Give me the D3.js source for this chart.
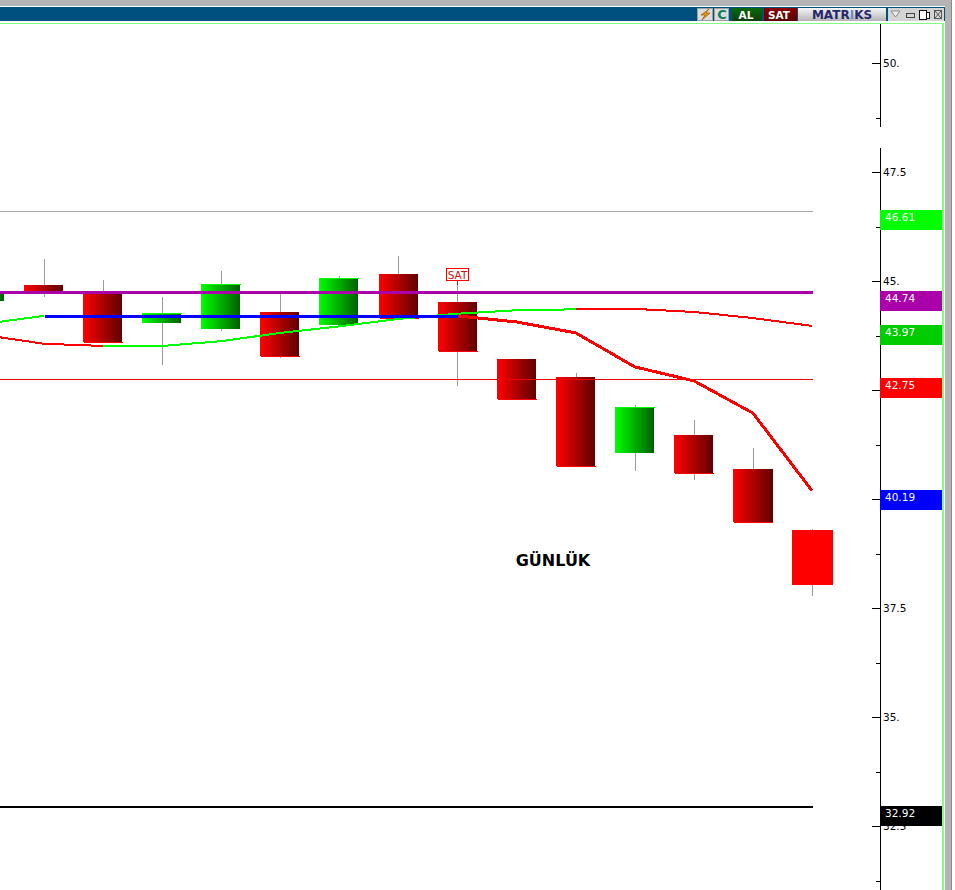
<!DOCTYPE html>
<html>
<head>
<meta charset="utf-8">
<script src="https://cdn.jsdelivr.net/npm/d3@7/dist/d3.min.js"></script>
<style>
html,body{margin:0;padding:0;background:#fff;overflow:hidden}
svg{display:block}
text{font-family:"DejaVu Sans",sans-serif}
</style>
</head>
<body>
<svg id="c" width="955" height="890"></svg>
<script>
// ---- data ----
const candleIndex = [0,1,2,3,4,5,6,7,8,9,10,11,12,13,14];
const opens  = [44.55,44.91,44.75,44.04,43.90,44.29,43.99,45.16,44.52,43.21,42.80,41.06,41.47,40.69,39.29];
const closes = [44.74,44.72,43.61,44.27,44.93,43.28,45.07,44.14,43.39,42.29,40.76,42.11,40.60,39.47,38.03];
const highs  = [44.74,45.50,45.02,44.63,45.23,44.72,45.11,45.57,45.14,43.21,42.89,42.16,41.81,41.17,39.31];
const lows   = [44.55,44.63,43.61,43.07,43.85,43.23,43.99,44.14,42.59,42.29,40.76,40.64,40.44,39.47,37.78];
const slowAvg = [43.76,43.56,43.51,43.51,43.62,43.81,43.96,44.13,44.25,44.33,44.35,44.36,44.29,44.15,43.97];
const fastAvgStart = [44.02,44.20];
const fastAvgEnd = [44.20,44.06,43.81,43.03,42.71,41.97,40.19];
const blueLevel = 44.20;
const majorTicks = [50,47.5,45,42.5,40,37.5,35,32.5];
const minorTicks = [48.75,46.25,43.75,41.25,38.75,36.25,33.75,31.25];
const tickLabels = ["50.","47.5","45.","42.5","","37.5","35.","32.5"];
const priceTags = [46.61,44.74,43.97,42.75,40.19,32.92];
const tagColors = ["#00ff00","#aa00aa","#00cc00","#ff0000","#0000ff","#000000"];
const signalIndex = 8;
const signalPrice = 45.14;

const svg = d3.select("#c");
const x = d3.scaleLinear().domain([0,14]).range([-15,812]);
const y = d3.scaleLinear().domain([50,32.5]).range([63,826]);
const plotRight = 813, axisX = 880, bodyW = 39;

// gradients
const defs = svg.append("defs");
function grad(id,a,b,dir){
  const g = defs.append("linearGradient").attr("id",id);
  if(dir) g.attr("x1",0).attr("x2",0).attr("y1",0).attr("y2",1);
  g.append("stop").attr("offset","0%").attr("stop-color",a);
  g.append("stop").attr("offset","100%").attr("stop-color",b);
}
grad("up","#00ff00","#006000");
grad("down","#ff0000","#600000");
grad("btnG","#0a6a0a","#0c3f0c",1);
grad("btnR","#8a0000","#5a0000",1);
grad("btnL","#f6f6f6","#b4b4b4",1);

// ---- chart ----
const chart = svg.append("g");

// horizontal levels (under the candles)
const hline = (v,x0,x1,c,w)=>{
  const yy = w%2 ? Math.round(y(v))+0.5 : Math.floor(y(v));
  return chart.append("line")
    .attr("x1",x0).attr("x2",x1).attr("y1",yy).attr("y2",yy)
    .attr("stroke",c).attr("stroke-width",w).attr("shape-rendering","crispEdges");
};
hline(priceTags[0],0,plotRight,"#a8a8a8",1);

const candles = candleIndex.map(i=>({i,o:opens[i],c:closes[i],h:highs[i],l:lows[i]}));
const cg = chart.selectAll("g.candle").data(candles).join("g").attr("class","candle");
const isLast = d=>d.i===candles.length-1;
cg.append("line")
  .attr("x1",d=>Math.round(x(d.i)-0.2)+0.5).attr("x2",d=>Math.round(x(d.i)-0.2)+0.5)
  .attr("y1",d=>Math.round(y(d.h))).attr("y2",d=>Math.round(y(d.l)))
  .attr("stroke","#9a9a9a").attr("stroke-width",1).attr("shape-rendering","crispEdges");
cg.append("rect")
  .attr("x",d=>Math.round(x(d.i))-20)
  .attr("width",d=>isLast(d)?41:bodyW+(d.i===candles.length-2?1:0))
  .attr("y",d=>Math.round(y(Math.max(d.o,d.c))))
  .attr("height",d=>Math.round(y(Math.min(d.o,d.c)))-Math.round(y(Math.max(d.o,d.c))))
  .attr("fill",d=>isLast(d)?"#ff0000":(d.c>d.o?"url(#up)":"url(#down)"))
  .attr("shape-rendering","crispEdges");
// 1px highlight edge, offset to the right
cg.filter(d=>!isLast(d)).append("line")
  .attr("x1",d=>Math.round(x(d.i))-19).attr("x2",d=>Math.round(x(d.i))+20)
  .attr("y1",d=>Math.round(y(d.c))+0.5)
  .attr("y2",d=>Math.round(y(d.c))+0.5)
  .attr("stroke",d=>d.c>d.o?"#00ff00":"#ff0000").attr("stroke-width",1)
  .attr("shape-rendering","crispEdges");

// levels on top
hline(priceTags[3],0,plotRight,"#ee0000",1);
hline(priceTags[1],0,plotRight,"#aa00aa",3);
hline(priceTags[5],0,plotRight,"#000000",2);

// moving averages
const lineGen = d3.line().x(d=>x(d[0])).y(d=>y(d[1]));
const path = (pts,c,w)=>chart.append("path").attr("d",lineGen(pts)).attr("fill","none")
  .attr("stroke",c).attr("stroke-width",w).attr("shape-rendering","crispEdges").attr("stroke-linejoin","round");
const slowPts = slowAvg.map((v,i)=>[i,v]);
path(slowPts.slice(0,3),"#ff0000",2);
path(slowPts.slice(2,11),"#00ff00",2);
path(slowPts.slice(10),"#ff0000",2);
path(fastAvgStart.map((v,i)=>[i,v]),"#00ff00",2);
path(fastAvgEnd.map((v,i)=>[i+8,v]),"#ff0000",3);
chart.append("line").attr("x1",x(1)+1).attr("x2",x(signalIndex))
  .attr("y1",Math.round(y(blueLevel))+0.5).attr("y2",Math.round(y(blueLevel))+0.5)
  .attr("stroke","#0000ff").attr("stroke-width",3).attr("shape-rendering","crispEdges");

// SAT signal marker
const sx = Math.round(x(signalIndex));
const sy = Math.round(y(signalPrice));
chart.append("line").attr("x1",sx-0.5).attr("x2",sx-0.5).attr("y1",sy-1).attr("y2",sy+10)
  .attr("stroke","#ff0000").attr("shape-rendering","crispEdges");
chart.append("rect").attr("x",sx-11.5).attr("y",sy-6.5).attr("width",22).attr("height",12)
  .attr("fill","#fff").attr("stroke","#ff0000").attr("shape-rendering","crispEdges");
chart.append("text").attr("x",sx-0.5).attr("y",sy+3.5).attr("text-anchor","middle")
  .attr("font-size",10.5).attr("fill","#d01010").attr("font-family","'DejaVu Sans Mono',monospace").text("SAT");

// title
chart.append("text").attr("x",553).attr("y",566).attr("text-anchor","middle")
  .attr("font-size",16).attr("font-weight","bold").attr("fill","#000").text("GÜNLÜK");

// ---- axis ----
const axisG = svg.append("g").attr("transform",`translate(${axisX},0)`);
const major = axisG.append("g").call(
  d3.axisRight(y).tickValues(majorTicks).tickSizeInner(-8).tickSizeOuter(0).tickPadding(3)
    .tickFormat((d,i)=>tickLabels[i]));
major.select(".domain").remove();
major.selectAll("text").attr("font-size",10.5).attr("font-family","'DejaVu Sans',sans-serif").attr("fill","#000");
major.selectAll("line").attr("stroke","#000").attr("shape-rendering","crispEdges");
const minor = axisG.append("g").call(
  d3.axisRight(y).tickValues(minorTicks).tickSizeInner(-4).tickSizeOuter(0).tickFormat(""));
minor.select(".domain").remove();
minor.selectAll("line").attr("stroke","#000").attr("shape-rendering","crispEdges");
[[24,127],[148,890]].forEach(s=>axisG.append("line").attr("x1",0.5).attr("x2",0.5)
  .attr("y1",s[0]).attr("y2",s[1]).attr("stroke","#000").attr("shape-rendering","crispEdges"));

// price tags
const tags = svg.selectAll("g.tag").data(priceTags).join("g").attr("class","tag")
  .attr("transform",d=>`translate(${axisX},${Math.round(y(d)-1.2)})`);
tags.append("rect").attr("width",62).attr("height",20).attr("y",0)
  .attr("fill",(d,i)=>tagColors[i]);
tags.append("text").attr("x",5).attr("y",11).attr("font-size",10.5).attr("fill","#fff")
  .text(d=>d.toFixed(2));

// ---- window chrome ----
const chrome = svg.append("g").attr("shape-rendering","crispEdges");
const R = (x0,y0,w,h,f,s)=>{const r=chrome.append("rect").attr("x",x0).attr("y",y0).attr("width",w).attr("height",h).attr("fill",f); if(s) r.attr("stroke",s); return r;};
R(0,0,952,6,"#b4b4b4");
R(0,7,945,14,"#00507f");
R(0,23,943,1,"#80ff80");
R(942,23,2,867,"#80ff80");
R(945,0,6,890,"#b4b4b4");
R(951,0,1,890,"#8c8c8c");
R(697.5,8.5,15,12,"#dcdcdc","#a0a0a0");
R(714.5,8.5,14,12,"#dcdcdc","#a0a0a0");
R(732,8,30,13,"url(#btnG)");
R(764,8,33,13,"url(#btnR)");
R(798,8,88,13,"url(#btnL)");
R(888,8,15,13,"#d4d4d4");
R(903,8,14,13,"#d4d4d4");
R(917,8,14,13,"#d4d4d4");
R(931,8,13,13,"#d4d4d4");

const T = (tx,ty,s,size,fill,weight)=>svg.append("text").attr("x",tx).attr("y",ty).attr("text-anchor","middle")
  .attr("font-size",size).attr("font-weight",weight||"bold").attr("fill",fill).text(s);
T(746,19,"AL",10.5,"#fff");
T(779,19,"SAT",10.5,"#fff");
const brand = T(842,19,"MATR",12,"#26266e");
brand.append("tspan").attr("fill","#6a90c0").text("I");
brand.append("tspan").text("KS");
T(722,19,"C",13,"#0a8060");
svg.append("path").attr("d","M709 9 L701 15 L705 15 L702 20 L710 13 L706 13 Z").attr("fill","#f09000").attr("stroke","#805000").attr("stroke-width",0.6);
svg.append("path").attr("d","M891 11 L900 11 L895.5 17 Z").attr("fill","#eee").attr("stroke","#888");
svg.append("rect").attr("x",906.5).attr("y",13.5).attr("width",8).attr("height",4).attr("fill","none").attr("stroke","#444").attr("shape-rendering","crispEdges");
svg.append("rect").attr("x",919.5).attr("y",10.5).attr("width",7).attr("height",9).attr("fill","#fff").attr("stroke","#111").attr("stroke-width",1.5).attr("shape-rendering","crispEdges");
svg.append("rect").attr("x",926.5).attr("y",12.5).attr("width",3).attr("height",6).attr("fill","#fff").attr("stroke","#111").attr("shape-rendering","crispEdges");
svg.append("rect").attr("x",934.5).attr("y",10.5).attr("width",7).attr("height",8).attr("fill","none").attr("stroke","#555").attr("shape-rendering","crispEdges");
svg.append("path").attr("d","M935 11 L941 18 M941 11 L935 18").attr("stroke","#555").attr("fill","none");
</script>
</body>
</html>
